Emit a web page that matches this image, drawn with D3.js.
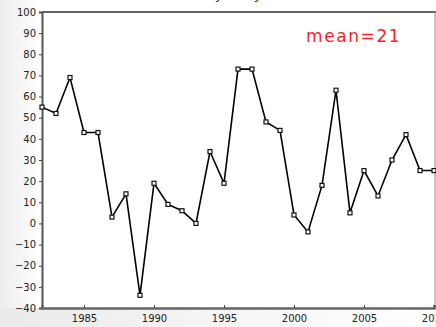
<!DOCTYPE html>
<html>
<head>
<meta charset="utf-8">
<script src="https://cdn.jsdelivr.net/npm/d3@7"></script>
<style>
  body { margin: 0; background: #fff; }
  svg { display: block; }
  .tick text { font-family: "DejaVu Sans", sans-serif; font-size: 10px; fill: #222; }
</style>
</head>
<body>
<svg id="chart" width="436" height="327"></svg>
<script>
var years = [1982, 1983, 1984, 1985, 1986, 1987, 1988, 1989, 1990, 1991, 1992, 1993, 1994, 1995,
	1996, 1997, 1998, 1999, 2000, 2001, 2002, 2003, 2004, 2005, 2006, 2007, 2008, 2009, 2010];
var values = [55, 52, 69, 43, 43, 3, 14, -34, 19, 9, 6, 0, 34, 19,
	73, 73, 48, 44, 4, -4, 18, 63, 5, 25, 13, 30, 42, 25, 25];
var yTicks = [-40, -30, -20, -10, 0, 10, 20, 30, 40, 50, 60, 70, 80, 90, 100];
var xTicks = [1985, 1990, 1995, 2000, 2005, 2010];
var titleText = 'by body';
var meanText = 'mean=21';

var svg = d3.select('#chart');
var plotLeft = 42, plotRight = 434, plotTop = 12, plotBottom = 308;

// faint grey shading round the frame
var defs = svg.append('defs');
var grad = defs.append('linearGradient').attr('id', 'shade').attr('x1', 0).attr('x2', 1).attr('y1', 0).attr('y2', 0);
grad.append('stop').attr('offset', 0).attr('stop-color', '#ececec');
grad.append('stop').attr('offset', 1).attr('stop-color', '#ffffff');
var gradB = defs.append('linearGradient').attr('id', 'shadeB').attr('x1', 0).attr('x2', 1).attr('y1', 0).attr('y2', 0);
gradB.append('stop').attr('offset', 0).attr('stop-color', '#eaeaea');
gradB.append('stop').attr('offset', 0.6).attr('stop-color', '#f7f7f7');
gradB.append('stop').attr('offset', 1).attr('stop-color', '#ffffff');

svg.append('rect').attr('x', 0).attr('y', 0).attr('width', 40).attr('height', 327).attr('fill', 'url(#shade)');
svg.append('rect').attr('x', 0).attr('y', plotBottom).attr('width', 436).attr('height', 19).attr('fill', 'url(#shadeB)');
svg.append('rect').attr('x', plotLeft).attr('y', plotTop).attr('width', plotRight - plotLeft)
	.attr('height', plotBottom - plotTop).attr('fill', '#fff');

var x = d3.scaleLinear().domain([1982, 2010]).range([plotLeft, plotRight]);
var y = d3.scaleLinear().domain([-40, 100]).range([plotBottom, plotTop]);

// title, mostly cut off at the top
svg.append('text')
	.attr('x', 234)
	.attr('y', -1)
	.attr('text-anchor', 'middle')
	.attr('font-family', 'DejaVu Sans, sans-serif')
	.attr('font-size', 14)
	.attr('fill', '#333')
	.text(titleText);

// frame
svg.append('line').attr('x1', plotLeft).attr('x2', 436).attr('y1', plotTop).attr('y2', plotTop)
	.attr('stroke', '#666').attr('stroke-width', 2);
svg.append('line').attr('x1', plotRight + 1).attr('x2', plotRight + 1).attr('y1', plotTop).attr('y2', plotBottom)
	.attr('stroke', '#888').attr('stroke-width', 1);

var yAxis = svg.append('g')
	.attr('transform', 'translate(' + plotLeft + ',0)')
	.call(d3.axisLeft(y).tickValues(yTicks).tickSize(3).tickPadding(3).tickFormat(function (d) {
		return d < 0 ? '\u2212' + Math.abs(d) : d;
	}));
yAxis.select('.domain').attr('stroke', '#555').attr('stroke-width', 2);
yAxis.selectAll('.tick line').attr('stroke', '#444');

var xAxis = svg.append('g')
	.attr('transform', 'translate(0,' + plotBottom + ')')
	.call(d3.axisBottom(x).tickValues(xTicks).tickSize(-3).tickPadding(4).tickFormat(d3.format('d')));
xAxis.select('.domain').attr('stroke', '#666').attr('stroke-width', 2.5);
xAxis.selectAll('.tick line').attr('stroke', '#444');
xAxis.selectAll('.tick text').attr('dy', '0.95em');

var pts = years.map(function (d, i) { return [d, values[i]]; });

var line = d3.line()
	.x(function (d) { return x(d[0]); })
	.y(function (d) { return y(d[1]); });

svg.append('path')
	.datum(pts)
	.attr('d', line)
	.attr('fill', 'none')
	.attr('stroke', '#000')
	.attr('stroke-width', 1.6);

svg.selectAll('rect.marker')
	.data(pts)
	.enter()
	.append('rect')
	.attr('class', 'marker')
	.attr('x', function (d) { return x(d[0]) - 2; })
	.attr('y', function (d) { return y(d[1]) - 2; })
	.attr('width', 4)
	.attr('height', 4)
	.attr('fill', '#fff')
	.attr('stroke', '#111')
	.attr('stroke-width', 1.2);

svg.append('text')
	.attr('x', 306)
	.attr('y', 42)
	.attr('font-family', 'DejaVu Sans, sans-serif')
	.attr('font-size', 17)
	.attr('letter-spacing', 1.6)
	.attr('fill', '#ff1f1f')
	.text(meanText);
</script>
</body>
</html>
